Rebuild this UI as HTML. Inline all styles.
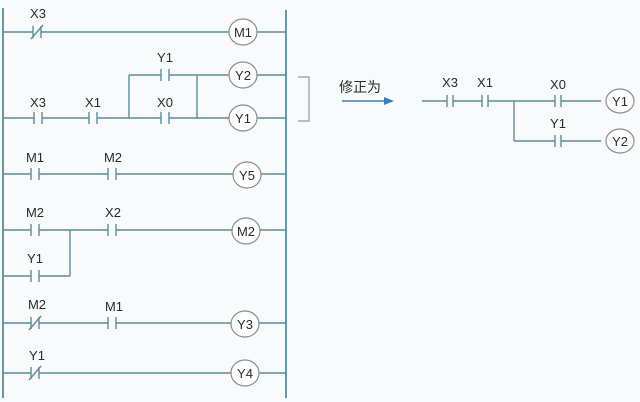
<!DOCTYPE html>
<html>
<head>
<meta charset="utf-8">
<style>
html,body{margin:0;padding:0;background:#f8fafb;}
svg{display:block;}
text{font-family:"Liberation Sans","Noto Sans CJK SC",sans-serif;fill:#2a2a2a;font-size:13px;text-anchor:middle;}
</style>
</head>
<body>
<svg width="640" height="402" viewBox="0 0 640 402" xmlns="http://www.w3.org/2000/svg">
<rect width="640" height="402" fill="#f8fafb"/>
<g stroke="#5a8d9c" stroke-width="1.4" fill="none">
  <!-- rails -->
  <line x1="3" y1="8" x2="3" y2="398" stroke-width="1.8"/>
  <line x1="286" y1="10" x2="286" y2="398" stroke-width="1.8"/>

  <!-- Rung 1: NC X3 -> M1 -->
  <line x1="3" y1="32" x2="33" y2="32"/>
  <line x1="41" y1="32" x2="229" y2="32"/>
  <line x1="257" y1="32" x2="286" y2="32"/>
  <line x1="33" y1="26" x2="33" y2="38"/>
  <line x1="41" y1="26" x2="41" y2="38"/>
  <line x1="31" y1="39" x2="43" y2="25"/>

  <!-- Rung Y2 branch -->
  <line x1="129" y1="75" x2="161" y2="75"/>
  <line x1="169" y1="75" x2="229" y2="75"/>
  <line x1="257" y1="75" x2="286" y2="75"/>
  <line x1="161" y1="69" x2="161" y2="81"/>
  <line x1="169" y1="69" x2="169" y2="81"/>
  <line x1="129" y1="75" x2="129" y2="118"/>
  <line x1="197" y1="75" x2="197" y2="118"/>

  <!-- Rung Y1 -->
  <line x1="3" y1="118" x2="34" y2="118"/>
  <line x1="42" y1="118" x2="89" y2="118"/>
  <line x1="97" y1="118" x2="161" y2="118"/>
  <line x1="169" y1="118" x2="229" y2="118"/>
  <line x1="257" y1="118" x2="286" y2="118"/>
  <line x1="34" y1="112" x2="34" y2="124"/>
  <line x1="42" y1="112" x2="42" y2="124"/>
  <line x1="89" y1="112" x2="89" y2="124"/>
  <line x1="97" y1="112" x2="97" y2="124"/>
  <line x1="161" y1="112" x2="161" y2="124"/>
  <line x1="169" y1="112" x2="169" y2="124"/>

  <!-- Rung Y5 -->
  <line x1="3" y1="174" x2="31" y2="174"/>
  <line x1="39" y1="174" x2="108" y2="174"/>
  <line x1="116" y1="174" x2="233" y2="174"/>
  <line x1="261" y1="174" x2="286" y2="174"/>
  <line x1="31" y1="168" x2="31" y2="180"/>
  <line x1="39" y1="168" x2="39" y2="180"/>
  <line x1="108" y1="168" x2="108" y2="180"/>
  <line x1="116" y1="168" x2="116" y2="180"/>

  <!-- Rung M2 -->
  <line x1="3" y1="230" x2="31" y2="230"/>
  <line x1="39" y1="230" x2="108" y2="230"/>
  <line x1="116" y1="230" x2="232" y2="230"/>
  <line x1="260" y1="230" x2="286" y2="230"/>
  <line x1="31" y1="224" x2="31" y2="236"/>
  <line x1="39" y1="224" x2="39" y2="236"/>
  <line x1="108" y1="224" x2="108" y2="236"/>
  <line x1="116" y1="224" x2="116" y2="236"/>
  <!-- Y1 branch -->
  <line x1="3" y1="276" x2="31" y2="276"/>
  <line x1="39" y1="276" x2="70" y2="276"/>
  <line x1="70" y1="276" x2="70" y2="230"/>
  <line x1="31" y1="270" x2="31" y2="282"/>
  <line x1="39" y1="270" x2="39" y2="282"/>

  <!-- Rung Y3 -->
  <line x1="3" y1="323" x2="31" y2="323"/>
  <line x1="39" y1="323" x2="108" y2="323"/>
  <line x1="116" y1="323" x2="231" y2="323"/>
  <line x1="259" y1="323" x2="286" y2="323"/>
  <line x1="31" y1="317" x2="31" y2="329"/>
  <line x1="39" y1="317" x2="39" y2="329"/>
  <line x1="29" y1="330" x2="41" y2="316"/>
  <line x1="108" y1="317" x2="108" y2="329"/>
  <line x1="116" y1="317" x2="116" y2="329"/>

  <!-- Rung Y4 -->
  <line x1="3" y1="373" x2="31" y2="373"/>
  <line x1="39" y1="373" x2="231" y2="373"/>
  <line x1="259" y1="373" x2="286" y2="373"/>
  <line x1="31" y1="367" x2="31" y2="379"/>
  <line x1="39" y1="367" x2="39" y2="379"/>
  <line x1="29" y1="380" x2="41" y2="366"/>

  <!-- Right diagram -->
  <line x1="422" y1="101" x2="447" y2="101"/>
  <line x1="453" y1="101" x2="482" y2="101"/>
  <line x1="488" y1="101" x2="555" y2="101"/>
  <line x1="561" y1="101" x2="601" y2="101"/>
  <line x1="447" y1="95" x2="447" y2="107"/>
  <line x1="453" y1="95" x2="453" y2="107"/>
  <line x1="482" y1="95" x2="482" y2="107"/>
  <line x1="488" y1="95" x2="488" y2="107"/>
  <line x1="555" y1="95" x2="555" y2="107"/>
  <line x1="561" y1="95" x2="561" y2="107"/>
  <line x1="514" y1="101" x2="514" y2="141"/>
  <line x1="514" y1="141" x2="555" y2="141"/>
  <line x1="561" y1="141" x2="601" y2="141"/>
  <line x1="555" y1="135" x2="555" y2="147"/>
  <line x1="561" y1="135" x2="561" y2="147"/>
</g>

<!-- bracket -->
<polyline points="298,77 309,77 309,121 298,121" fill="none" stroke="#8a9aa2" stroke-width="1.2"/>

<!-- arrow -->
<line x1="342" y1="101" x2="386" y2="101" stroke="#3d7fb8" stroke-width="1.4"/>
<polygon points="384,97 394,101 384,105" fill="#3d7fb8"/>
<text x="360" y="92" style="font-size:14px">修正为</text>

<!-- coils -->
<g fill="#ffffff" stroke="#8c8c8c" stroke-width="1.2">
  <ellipse cx="243" cy="32" rx="14" ry="13"/>
  <ellipse cx="243" cy="75" rx="14" ry="13"/>
  <ellipse cx="243" cy="118" rx="14" ry="13"/>
  <ellipse cx="247" cy="175" rx="14" ry="13"/>
  <ellipse cx="246" cy="231" rx="14" ry="13"/>
  <ellipse cx="245" cy="324" rx="14" ry="13"/>
  <ellipse cx="245" cy="373" rx="14" ry="13"/>
  <ellipse cx="620" cy="101" rx="14" ry="12"/>
  <ellipse cx="620" cy="141" rx="14" ry="12"/>
</g>
<g>
  <text x="243" y="37">M1</text>
  <text x="243" y="80">Y2</text>
  <text x="243" y="123">Y1</text>
  <text x="247" y="180">Y5</text>
  <text x="246" y="236">M2</text>
  <text x="245" y="329">Y3</text>
  <text x="245" y="378">Y4</text>
  <text x="620" y="106">Y1</text>
  <text x="620" y="146">Y2</text>
</g>

<!-- contact labels -->
<g>
  <text x="38" y="18">X3</text>
  <text x="165" y="62">Y1</text>
  <text x="38" y="107">X3</text>
  <text x="93" y="107">X1</text>
  <text x="165" y="107">X0</text>
  <text x="35" y="162">M1</text>
  <text x="113" y="162">M2</text>
  <text x="35" y="217">M2</text>
  <text x="113" y="217">X2</text>
  <text x="35" y="263">Y1</text>
  <text x="37" y="309">M2</text>
  <text x="114" y="311">M1</text>
  <text x="37" y="360">Y1</text>
  <text x="450" y="87">X3</text>
  <text x="485" y="87">X1</text>
  <text x="558" y="89">X0</text>
  <text x="558" y="128">Y1</text>
</g>
</svg>
</body>
</html>
